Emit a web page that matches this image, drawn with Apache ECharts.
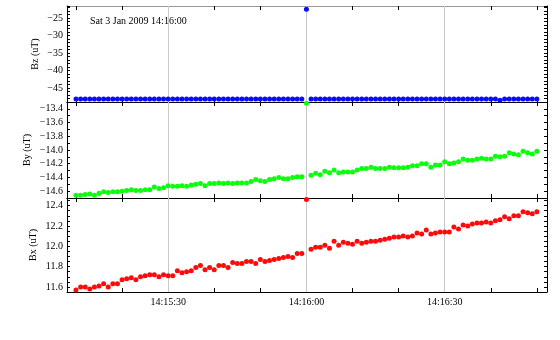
<!DOCTYPE html>
<html>
<head>
<meta charset="utf-8">
<script src="https://cdn.jsdelivr.net/npm/echarts@6/dist/echarts.min.js"></script>
<style>
  html, body { margin: 0; padding: 0; background: #fff; }
  #chart { width: 560px; height: 340px; }
</style>
</head>
<body>
<div id="chart"></div>
<script>
// samples every 1 s, first one at 14:15:10 (x axis = seconds after 14:15:00)
var startSec = 10;

var bz = [
  -48.15, -48.15, -48.15, -48.15, -48.15, -48.15, -48.15, -48.15, -48.15, -48.15,
  -48.15, -48.15, -48.15, -48.15, -48.15, -48.15, -48.15, -48.15, -48.15, -48.15,
  -48.15, -48.15, -48.15, -48.15, -48.15, -48.15, -48.15, -48.15, -48.15, -48.15,
  -48.15, -48.15, -48.15, -48.15, -48.15, -48.15, -48.15, -48.15, -48.15, -48.15,
  -48.15, -48.15, -48.15, -48.15, -48.15, -48.15, -48.15, -48.15, -48.15, -48.15,
  -22.4,
  -48.15, -48.15, -48.15, -48.15, -48.15, -48.15, -48.15, -48.15, -48.15, -48.15,
  -48.15, -48.15, -48.15, -48.15, -48.15, -48.15, -48.15, -48.15, -48.15, -48.15,
  -48.15, -48.15, -48.15, -48.15, -48.15, -48.15, -48.15, -48.15, -48.15, -48.15,
  -48.15, -48.15, -48.15, -48.15, -48.15, -48.15, -48.15, -48.15, -48.15, -48.15,
  -48.15, -48.5, -48.15, -48.15, -48.15, -48.15, -48.15, -48.15, -48.15, -48.15
];

var by = [
  -14.66, -14.66, -14.65, -14.64, -14.66, -14.63, -14.61, -14.62, -14.61, -14.61,
  -14.60, -14.59, -14.58, -14.59, -14.59, -14.58, -14.58, -14.54, -14.56, -14.55,
  -14.52, -14.53, -14.53, -14.52, -14.53, -14.51, -14.50,
  -14.49, -14.52, -14.49, -14.49, -14.48, -14.49, -14.48, -14.49, -14.48, -14.48,
  -14.48, -14.46, -14.43, -14.45, -14.46, -14.43, -14.42, -14.40, -14.42, -14.42,
  -14.40, -14.39, -14.39,
  -13.32,
  -14.37, -14.34, -14.36, -14.31, -14.33, -14.29, -14.33, -14.32, -14.32, -14.32,
  -14.29, -14.27, -14.27, -14.25, -14.27,
  -14.27, -14.27, -14.25, -14.26, -14.26, -14.26, -14.25, -14.23, -14.23, -14.20,
  -14.20, -14.25, -14.22, -14.22, -14.17, -14.20, -14.19, -14.17, -14.13, -14.15,
  -14.15, -14.13, -14.12, -14.13, -14.13, -14.09, -14.10, -14.09, -14.04, -14.06,
  -14.07, -14.02, -14.04, -14.06, -14.02
];

var bx = [
  11.57, 11.60, 11.60, 11.58, 11.60, 11.61, 11.63, 11.60, 11.63, 11.63,
  11.67, 11.68, 11.69, 11.67, 11.70, 11.71, 11.72, 11.72, 11.70, 11.72,
  11.71, 11.71, 11.76, 11.74, 11.75, 11.76, 11.79,
  11.81, 11.77, 11.79, 11.77, 11.81, 11.81, 11.79, 11.84, 11.83, 11.83,
  11.85, 11.85, 11.83, 11.87, 11.85, 11.86, 11.87, 11.88, 11.89, 11.90,
  11.89, 11.93, 11.93,
  12.46,
  11.97, 11.99, 11.99, 12.01, 11.98, 12.05, 12.01, 12.04, 12.03, 12.02,
  12.05, 12.03, 12.04, 12.05, 12.05,
  12.06, 12.07, 12.08, 12.09, 12.09, 12.10, 12.09, 12.10, 12.13, 12.12,
  12.16, 12.12, 12.13, 12.14, 12.14, 12.14, 12.19, 12.17, 12.21, 12.20,
  12.22, 12.23, 12.23, 12.24, 12.23, 12.25, 12.26, 12.29, 12.27, 12.30,
  12.30, 12.34, 12.33, 12.32, 12.34
];

var tickSecs = [30, 60, 90];
var tickLabels = ['14:15:30', '14:16:00', '14:16:30'];
var stamp = 'Sat 3 Jan 2009 14:16:00';

var serif = 'Liberation Serif';
var xMin = 8.05, xMax = 112.2;

var panels = [
  { name: 'Bz (uT)', data: bz, color: '#0a0aff', min: -49, max: -21.5, step: 1, major: 5, digits: 0, top: 6, height: 96, gap: 27 },
  { name: 'By (uT)', data: by, color: '#0aff0a', min: -14.7, max: -13.3, step: 0.1, major: 0.2, digits: 1, top: 102, height: 96, gap: 35 },
  { name: 'Bx (uT)', data: bx, color: '#ff0a0a', min: 11.55, max: 12.475, step: 0.05, major: 0.2, digits: 1, top: 198, height: 94, gap: 29 }
];

function pairs(vals) {
  return vals.map(function (v, i) { return [startSec + i, v]; });
}

function yFormatter(p) {
  return function (v) {
    var r = v / p.major;
    if (Math.abs(r - Math.round(r)) > 1e-6) return '';
    return v.toFixed(p.digits).replace('-', '\u2212');
  };
}

function xFormatter(v) {
  if (Math.abs(v - Math.round(v)) > 1e-6) return '';
  var i = tickSecs.indexOf(Math.round(v));
  return i >= 0 ? tickLabels[i] : '';
}

var grids = [], xAxes = [], yAxes = [], series = [];

panels.forEach(function (p, k) {
  grids.push({ left: 67, width: 480, top: p.top, height: p.height });

  // bottom and top x axes of the panel
  xAxes.push({
    type: 'value', gridIndex: k, position: 'bottom', min: xMin, max: xMax, splitNumber: 10,
    axisLine: { lineStyle: { color: '#000', width: 1 } },
    axisTick: { inside: true, length: 4, lineStyle: { color: '#000' } },
    axisLabel: {
      show: k === 2, margin: 5, showMinLabel: false, showMaxLabel: false,
      formatter: xFormatter, fontFamily: serif, fontSize: 10, color: '#000'
    },
    splitLine: { show: false }
  });
  xAxes.push({
    type: 'value', gridIndex: k, position: 'top', min: xMin, max: xMax, splitNumber: 10,
    axisLine: { lineStyle: { color: k === 0 ? '#999' : '#000', width: 1 } },
    axisTick: { inside: true, length: 4, lineStyle: { color: '#000' } },
    axisLabel: { show: false },
    splitLine: { show: false }
  });

  yAxes.push({
    type: 'value', gridIndex: k, position: 'left', min: p.min, max: p.max, interval: p.step,
    name: p.name, nameLocation: 'middle', nameGap: p.gap, nameMoveOverlap: false,
    nameTextStyle: { fontFamily: serif, fontSize: 10, color: '#000' },
    axisLine: { show: true, lineStyle: { color: '#000', width: 1 } },
    axisTick: { inside: true, length: 3, lineStyle: { color: '#000' } },
    axisLabel: { margin: 4, formatter: yFormatter(p), fontFamily: serif, fontSize: 10, color: '#000' },
    splitLine: { show: false }
  });
  yAxes.push({
    type: 'value', gridIndex: k, position: 'right', min: p.min, max: p.max, interval: p.step,
    axisLine: { show: true, lineStyle: { color: '#000', width: 1 } },
    axisTick: { inside: true, length: 3, lineStyle: { color: '#000' } },
    axisLabel: { show: false },
    splitLine: { show: false }
  });

  series.push({
    type: 'scatter', xAxisIndex: 2 * k, yAxisIndex: 2 * k,
    data: pairs(p.data), symbolSize: 5, z: 3,
    itemStyle: { color: p.color, opacity: 1 },
    markLine: {
      silent: true, symbol: 'none', z: 1,
      label: { show: false },
      lineStyle: { color: '#c8c8c8', type: 'solid', width: 1 },
      data: tickSecs.map(function (s) { return { xAxis: s }; })
    }
  });
});

var chart = echarts.init(document.getElementById('chart'));
chart.setOption({
  animation: false,
  title: {
    text: stamp, left: 85, top: 11,
    textStyle: { fontFamily: serif, fontSize: 10, fontWeight: 'normal', color: '#000' }
  },
  grid: grids,
  xAxis: xAxes,
  yAxis: yAxes,
  series: series
});
</script>
</body>
</html>
